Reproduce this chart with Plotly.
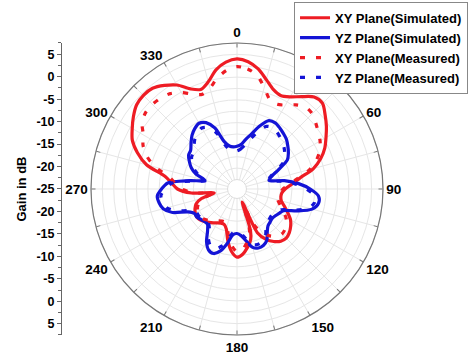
import plotly.graph_objects as go

# ---------------- data ----------------
xy_sim_theta = [0, 5, 10, 15, 20, 25, 30, 35, 40, 45, 50, 55, 60, 65, 70, 75, 80, 85, 90, 95,
                100, 105, 110, 115, 120, 125, 130, 135, 140, 145, 150, 155, 158, 162, 165, 170,
                175, 180, 185, 190, 195, 200, 205, 210, 215, 220, 225, 230, 235, 240, 245, 250,
                255, 260, 265, 270, 275, 280, 285, 290, 295, 300, 305, 310, 315, 320, 325, 330,
                335, 340, 345, 350, 355, 360]
xy_sim_gain = [4.0, 3.5, 2.2, 0.3, -1.3, -1.9, -1.2, 0.2, 1.8, 2.0, 0.7, -0.6, -2.0, -3.3, -5.0,
               -7.2, -10.5, -12.5, -14.0, -14.7, -14.8, -14.5, -13.5, -12.3, -11.0, -10.2, -9.6,
               -9.3, -9.6, -10.5, -11.8, -14.0, -21.5, -15.0, -13.0, -11.5, -10.2, -9.6, -10.8,
               -13.0, -15.5, -16.3, -16.3, -16.0, -15.5, -15.0, -14.5, -14.0, -13.8, -14.0, -14.4,
               -15.0, -16.5, -19.5, -14.5, -11.5, -10.2, -8.5, -4.0, -1.3, 0.8, 2.0, 3.2, 4.2,
               4.5, 4.3, 3.2, 1.8, -0.3, -1.3, -0.2, 2.0, 3.4, 4.0]

xy_meas_theta = xy_sim_theta
xy_meas_gain = [2.3, 1.9, 0.8, -1.5, -3.6, -4.0, -3.3, -2.0, -1.1, -1.2, -2.0, -2.8, -3.5, -4.5,
                -6.0, -8.0, -11.0, -13.0, -14.5, -15.0, -15.5, -15.3, -14.5, -13.5, -12.2, -11.3,
                -10.8, -10.6, -11.0, -12.0, -13.5, -16.0, -20.5, -16.0, -14.0, -12.5, -11.2,
                -10.8, -12.0, -14.0, -16.0, -16.8, -16.8, -16.5, -16.0, -15.5, -15.0, -14.6,
                -14.5, -14.7, -15.0, -15.7, -17.0, -19.0, -15.0, -12.5, -11.0, -9.5, -6.0, -3.5,
                -1.8, -0.8, 0.9, 1.6, 1.7, 1.5, 1.0, -0.1, -1.6, -2.4, -1.6, 0.2, 1.6, 2.3]

yz_theta = [0, 5, 10, 15, 20, 25, 30, 35, 40, 45, 50, 55, 60, 65, 70, 75, 80, 85, 90, 95, 100,
            105, 110, 115, 120, 125, 130, 135, 140, 145, 150, 155, 160, 165, 170, 175, 180, 185,
            190, 195, 200, 205, 210, 215, 220, 225, 230, 235, 240, 245, 250, 255, 260, 265, 270,
            275, 280, 285, 290, 295, 300, 305, 310, 315, 320, 325, 330, 335, 340, 345, 350, 355,
            360]
yz_sim_gain = [-15.2, -14.8, -13.5, -12.0, -9.8, -8.0, -7.8, -8.2, -8.7, -9.2, -10.0, -10.8,
               -11.8, -14.5, -16.5, -17.3, -14.0, -11.0, -8.5, -6.6, -6.4, -7.5, -10.5, -13.3,
               -13.9, -14.3, -14.5, -14.3, -14.0, -13.0, -11.5, -10.9, -10.8, -11.3, -13.0,
               -14.3, -14.8, -14.5, -12.5, -10.5, -9.5, -9.8, -11.2, -13.3, -14.5, -14.5, -14.2,
               -13.8, -13.8, -12.7, -9.5, -7.8, -7.2, -7.0, -8.0, -9.3, -14.0, -17.3, -15.0,
               -13.5, -12.5, -11.6, -11.3, -10.3, -9.2, -8.4, -7.9, -8.5, -10.3, -13.8, -15.0,
               -15.3, -15.2]
yz_meas_gain = [-16.2, -15.8, -14.8, -13.2, -11.2, -9.4, -9.0, -9.3, -9.8, -10.3, -11.0, -11.8,
                -12.8, -15.0, -16.8, -17.5, -14.8, -11.8, -9.3, -7.5, -7.3, -8.3, -11.0, -13.8,
                -14.6, -15.0, -15.0, -14.8, -14.6, -13.5, -12.2, -11.7, -11.6, -12.0, -13.5,
                -14.8, -15.2, -15.0, -13.5, -11.6, -10.6, -10.8, -12.0, -14.0, -14.8, -14.9,
                -14.6, -14.3, -14.3, -13.4, -10.5, -8.6, -8.0, -7.8, -8.8, -10.2, -14.5, -17.5,
                -15.6, -14.2, -13.2, -12.4, -12.0, -11.2, -10.2, -9.5, -9.1, -9.7, -11.5, -14.6,
                -15.9, -16.3, -16.2]

series_names = ["XY Plane(Simulated)", "YZ Plane(Simulated)",
                "XY Plane(Measured)", "YZ Plane(Measured)"]

angle_ticks = list(range(0, 360, 15))
angle_labels = [str(a) if a % 30 == 0 else "" for a in angle_ticks]

gain_tick_pos = [-30, -25, -20, -15, -10, -5, 0, 5, 10, 15, 20, 25, 30]
gain_tick_text = ["5", "0", "-5", "-10", "-15", "-20", "-25", "-20", "-15", "-10", "-5", "0", "5"]

# ---------------- figure ----------------
RED = "#ee1c24"
BLUE = "#1414d6"
FONT = "Liberation Sans"
PX0, PX1 = 0.19158, 0.80632
PY0, PY1 = 0.06425, 0.87989

fig = go.Figure()
fig.add_trace(go.Scatterpolar(r=xy_sim_gain, theta=xy_sim_theta, mode="lines",
                              name=series_names[0],
                              line=dict(color=RED, width=3.2, shape="spline", smoothing=0.8)))
fig.add_trace(go.Scatterpolar(r=yz_sim_gain, theta=yz_theta, mode="lines",
                              name=series_names[1],
                              line=dict(color=BLUE, width=3.2, shape="spline", smoothing=0.8)))
fig.add_trace(go.Scatterpolar(r=xy_meas_gain, theta=xy_meas_theta, mode="lines",
                              name=series_names[2],
                              line=dict(color=RED, width=3.2, dash="5px,11px", shape="spline",
                                        smoothing=0.8)))
fig.add_trace(go.Scatterpolar(r=yz_meas_gain, theta=yz_theta, mode="lines",
                              name=series_names[3],
                              line=dict(color=BLUE, width=3.2, dash="5px,11px", shape="spline",
                                        smoothing=0.8)))

# invisible trace to carry the left gain axis
fig.add_trace(go.Scatter(x=[0.5], y=[0], mode="markers", marker=dict(opacity=0),
                         showlegend=False, hoverinfo="skip", xaxis="x", yaxis="y"))

fig.update_layout(
    width=475, height=358,
    margin=dict(l=0, r=0, t=0, b=0),
    paper_bgcolor="white", plot_bgcolor="white",
    font=dict(family=FONT, color="black"),
    polar=dict(
        domain=dict(x=[PX0, PX1], y=[PY0, PY1]),
        bgcolor="white",
        hole=0.065,
        radialaxis=dict(range=[-22.5, 7.5], tickvals=[-20, -17.5, -15, -12.5, -10, -7.5, -5,
                                                       -2.5, 0, 2.5, 5],
                        showticklabels=False, ticks="", showline=False,
                        gridcolor="#e6e6e6", gridwidth=1),
        angularaxis=dict(rotation=90, direction="clockwise",
                         tickmode="array", tickvals=angle_ticks, ticktext=angle_labels,
                         ticks="inside", ticklen=4, tickcolor="#777",
                         showline=True, linecolor="#dcdcdc", linewidth=1,
                         gridcolor="#e6e6e6", gridwidth=1,
                         tickfont=dict(family=FONT, size=13.5, color="black", weight="bold")),
    ),
    shapes=[dict(type="circle", xref="paper", yref="paper", x0=PX0, x1=PX1, y0=PY0, y1=PY1,
                 line=dict(color="#777", width=1.2), layer="above")],
    xaxis=dict(domain=[0.1305, 0.14], visible=False, range=[0, 1]),
    yaxis=dict(domain=[PY0, PY1], range=[-32.5, 32.5], anchor="x",
               tickmode="array", tickvals=gain_tick_pos, ticktext=gain_tick_text,
               ticks="outside", ticklen=4, tickcolor="#666",
               showline=True, linecolor="#666", linewidth=1,
               showgrid=False, zeroline=False,
               tickfont=dict(family=FONT, size=12.5, color="black", weight="bold"),
               minor=dict(tickmode="linear", tick0=0, dtick=2.5, ticks="outside",
                          ticklen=3, tickcolor="#666", showgrid=False),
               title=dict(text="Gain in dB", standoff=6,
                          font=dict(family=FONT, size=13, color="black", weight="bold"))),
    legend=dict(x=0.619, y=0.995, xanchor="left", yanchor="top",
                bgcolor="white", bordercolor="#888", borderwidth=1,
                font=dict(family=FONT, size=13, color="black", weight="bold"),
                tracegroupgap=0, itemwidth=30),
    showlegend=True,
)

fig.write_html("out.html")
